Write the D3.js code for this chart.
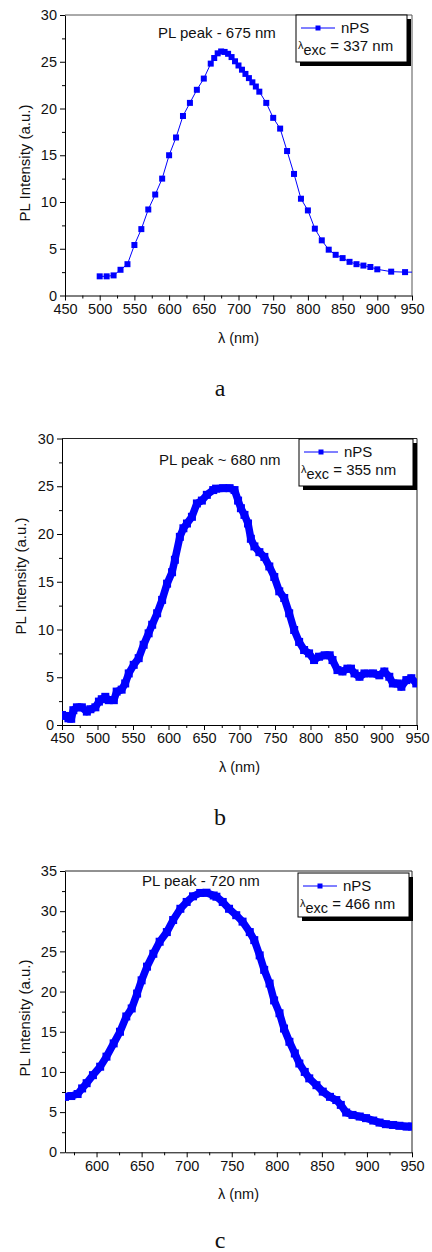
<!DOCTYPE html>
<html>
<head>
<meta charset="utf-8">
<script src="https://cdn.jsdelivr.net/npm/d3@7"></script>
<style>
  body { margin: 0; background: #fff; }
</style>
</head>
<body>
<script>
// panel a: PL spectrum, excitation 337 nm
var waveA = [500, 510, 520, 530, 540, 550, 560, 570, 580, 590, 600, 610, 620, 630, 640, 650, 660, 665, 670, 675,
             680, 685, 690, 695, 700, 705, 710, 715, 720, 725, 730, 740, 750, 760, 770, 780, 790, 800, 810, 820,
             830, 840, 850, 860, 870, 880, 890, 900, 920, 940, 960];
var intA = [2.05, 2.05, 2.15, 2.75, 3.35, 5.4, 7.1, 9.2, 10.8, 12.5, 15.0, 16.9, 19.2, 20.6, 22.0, 23.2, 24.8, 25.4, 25.9, 26.1,
            26.05, 25.85, 25.5, 25.05, 24.6, 24.15, 23.7, 23.25, 22.8, 22.35, 21.8, 20.6, 19.0, 17.85, 15.45, 13.0, 10.35, 9.1, 7.15, 5.9,
            4.9, 4.35, 4.0, 3.6, 3.35, 3.2, 3.05, 2.8, 2.55, 2.5, 2.5];

// panel b: excitation 355 nm
var waveB = [450, 455, 459, 463, 466, 471, 478, 485, 490, 497, 502, 506, 511, 516, 523, 527, 534, 539, 544, 551,
             558, 565, 572, 577, 584, 591, 598, 605, 609, 616, 621, 626, 633, 640, 647, 654, 663, 667, 677, 686,
             693, 698, 702, 707, 712, 716, 721, 728, 735, 742, 749, 756, 763, 770, 777, 784, 791, 798, 805, 812,
             820, 827, 831, 838, 845, 852, 857, 862, 869, 876, 888, 897, 904, 911, 916, 923, 928, 935, 942, 949];
var intB = [1.05, 0.95, 0.7, 0.65, 1.55, 1.85, 1.85, 1.4, 1.65, 1.85, 2.45, 2.7, 2.95, 2.6, 2.6, 3.5, 3.7, 4.35, 5.4, 6.3,
            7.0, 8.4, 9.6, 10.5, 11.7, 13.1, 14.8, 16.0, 17.3, 19.7, 20.6, 21.1, 21.8, 23.2, 23.5, 24.1, 24.6, 24.75, 24.8, 24.8,
            24.6, 23.5, 22.7, 22.0, 21.1, 19.5, 18.7, 18.1, 17.6, 16.6, 15.5, 14.0, 13.3, 11.7, 9.95, 8.7, 7.85, 7.5, 6.8, 7.15,
            7.3, 7.3, 6.8, 5.75, 5.6, 5.9, 5.9, 5.4, 5.05, 5.4, 5.4, 5.2, 5.6, 5.05, 4.35, 4.35, 4.0, 4.7, 4.9, 4.35];

// panel c: excitation 466 nm
var waveC = [565, 572, 579, 584, 589, 596, 604, 611, 619, 626, 633, 639, 645, 650, 656, 663, 670, 678, 685, 693,
             700, 707, 715, 722, 730, 733, 740, 747, 755, 762, 770, 775, 781, 786, 792, 797, 803, 808, 814, 820,
             825, 831, 836, 844, 851, 859, 866, 871, 877, 884, 892, 899, 907, 914, 921, 929, 936, 944, 950];
var intC = [6.9, 7.0, 7.25, 7.95, 8.6, 9.6, 10.65, 11.9, 13.55, 15.0, 16.9, 17.9, 19.75, 21.4, 23.1, 24.7, 26.2, 27.4, 28.9, 30.3,
            31.15, 31.85, 32.27, 32.3, 31.95, 31.8, 31.15, 30.3, 29.5, 28.7, 27.4, 26.4, 24.5, 22.7, 21.0, 18.9, 17.3, 15.4, 13.75, 12.3,
            11.05, 10.0, 9.2, 8.35, 7.55, 6.9, 6.5, 5.9, 4.95, 4.65, 4.45, 4.25, 3.95, 3.7, 3.5, 3.4, 3.3, 3.2, 3.2];

var xTicksAB = [450, 500, 550, 600, 650, 700, 750, 800, 850, 900, 950];
var xTicksC = [600, 650, 700, 750, 800, 850, 900, 950];
var yTicksAB = [0, 5, 10, 15, 20, 25, 30];
var yTicksC = [0, 5, 10, 15, 20, 25, 30, 35];

var peakLabels = ["PL peak - 675 nm", "PL peak ~ 680 nm", "PL peak - 720 nm"];
var excLabels = ["337", "355", "466"];
var captions = ["a", "b", "c"];

var blue = "#0000ff";
var sans = "'Liberation Sans', Arial, sans-serif";

var svg = d3.select("body").append("svg")
    .attr("width", 432)
    .attr("height", 1252)
    .attr("font-family", sans);

var panels = [
  {wave: waveA, val: intA, xd: [450, 950], yd: [0, 30], xt: xTicksAB, yt: yTicksAB,
   left: 65, right: 412, top: 15, bottom: 295.5, thick: false,
   peakX: 158, peakY: 38, leg: [296, 15, 111, 47], ylabX: 25, ylabY: 163},
  {wave: waveB, val: intB, xd: [450, 950], yd: [0, 30], xt: xTicksAB, yt: yTicksAB,
   left: 62, right: 417, top: 438.5, bottom: 725, thick: true,
   peakX: 159, peakY: 465, leg: [299, 439, 114, 47], ylabX: 21, ylabY: 576},
  {wave: waveC, val: intC, xd: [565, 950], yd: [0, 35], xt: xTicksC, yt: yTicksC,
   left: 65, right: 412, top: 871, bottom: 1152.3, thick: true,
   peakX: 142, peakY: 886, leg: [298, 873, 111, 44], ylabX: 25, ylabY: 1018}
];

panels.forEach(function(p, k) {
  var g = svg.append("g");
  var x = d3.scaleLinear().domain(p.xd).range([p.left, p.right]);
  var y = d3.scaleLinear().domain(p.yd).range([p.bottom, p.top]);

  // minor ticks
  var xMinor = d3.range(p.xd[0] <= 450 ? 475 : 575, 950, 50);
  var yMinor = d3.range(2.5, p.yd[1], 5);
  g.append("g").attr("transform", "translate(0," + p.bottom + ")")
   .call(d3.axisBottom(x).tickValues(xMinor).tickSize(3).tickFormat(""))
   .call(function(s) { s.select(".domain").remove(); });
  g.append("g").attr("transform", "translate(" + p.left + ",0)")
   .call(d3.axisLeft(y).tickValues(yMinor).tickSize(3).tickFormat(""))
   .call(function(s) { s.select(".domain").remove(); });

  // major axes
  var xa = g.append("g").attr("transform", "translate(0," + p.bottom + ")")
   .call(d3.axisBottom(x).tickValues(p.xt).tickSize(5).tickPadding(3).tickSizeOuter(0));
  var ya = g.append("g").attr("transform", "translate(" + p.left + ",0)")
   .call(d3.axisLeft(y).tickValues(p.yt).tickSize(5).tickPadding(3).tickSizeOuter(0));
  [xa, ya].forEach(function(a) {
    a.selectAll("text").attr("font-size", "14.5px").attr("fill", "#111").attr("font-family", sans);
  });

  // top / right frame
  g.append("line").attr("x1", p.left).attr("x2", p.right).attr("y1", p.top).attr("y2", p.top)
   .attr("stroke", k == 0 ? "#555" : "#222");
  g.append("line").attr("x1", p.right).attr("x2", p.right).attr("y1", p.top).attr("y2", p.bottom)
   .attr("stroke", k == 0 ? "#555" : "#222");

  // clip for data
  var cid = "clip" + k;
  svg.append("clipPath").attr("id", cid).append("rect")
     .attr("x", p.left).attr("y", p.top).attr("width", p.right - p.left).attr("height", p.bottom - p.top);

  var pts = p.wave.map(function(w, i) { return [w, p.val[i]]; });
  var line = d3.line().x(function(d) { return x(d[0]); }).y(function(d) { return y(d[1]); });
  var dg = g.append("g").attr("clip-path", "url(#" + cid + ")");
  var ms = p.thick ? 8 : 6;
  dg.append("path").datum(pts).attr("d", line).attr("fill", "none")
    .attr("stroke", blue).attr("stroke-width", p.thick ? 7.5 : 1).attr("stroke-linejoin", "round");
  dg.selectAll("rect").data(pts).enter().append("rect")
    .attr("x", function(d) { return x(d[0]) - ms / 2; })
    .attr("y", function(d) { return y(d[1]) - ms / 2; })
    .attr("width", ms).attr("height", ms)
    .attr("fill", blue);

  // peak annotation
  g.append("text").attr("x", p.peakX).attr("y", p.peakY)
   .attr("font-size", "15px").attr("fill", "#111").text(peakLabels[k]);

  // legend with shadow
  var L = p.leg;
  g.append("rect").attr("x", L[0] + 4).attr("y", L[1] + 4).attr("width", L[2]).attr("height", L[3]).attr("fill", "#000");
  g.append("rect").attr("x", L[0]).attr("y", L[1]).attr("width", L[2]).attr("height", L[3])
   .attr("fill", "#fff").attr("stroke", "#000").attr("stroke-width", 1);
  g.append("line").attr("x1", L[0] + 5).attr("x2", L[0] + 39).attr("y1", L[1] + 13).attr("y2", L[1] + 13)
   .attr("stroke", blue).attr("stroke-width", 1);
  g.append("rect").attr("x", L[0] + 19.5).attr("y", L[1] + 10.5).attr("width", 5).attr("height", 5).attr("fill", blue);
  g.append("text").attr("x", L[0] + 45).attr("y", L[1] + 18).attr("font-size", "15px").attr("fill", "#111").text("nPS");
  var t2 = g.append("text").attr("x", L[0] + 2).attr("y", L[1] + 36).attr("font-size", "15px").attr("fill", "#111");
  t2.append("tspan").attr("font-size", "11px").attr("dy", -2).text("λ");
  t2.append("tspan").attr("font-size", "14.5px").attr("dy", 6).text("exc");
  t2.append("tspan").attr("dy", -4).text(" = " + excLabels[k] + " nm");

  // axis titles
  g.append("text").attr("x", (p.left + p.right) / 2).attr("y", p.bottom + 47)
   .attr("text-anchor", "middle").attr("font-size", "14.5px").attr("fill", "#111").text("λ (nm)");
  g.append("text").attr("transform", "translate(" + p.ylabX + "," + p.ylabY + ") rotate(-90)")
   .attr("text-anchor", "middle").attr("dy", "0.35em").attr("font-size", "15px").attr("fill", "#111")
   .text("PL Intensity (a.u.)");

  // caption letter
  g.append("text").attr("x", 220).attr("y", p.bottom + (k == 2 ? 96 : 100))
   .attr("text-anchor", "middle").attr("font-family", "'Liberation Serif', 'Times New Roman', serif")
   .attr("font-size", "24px").attr("fill", "#111").text(captions[k]);
});
</script>
</body>
</html>
